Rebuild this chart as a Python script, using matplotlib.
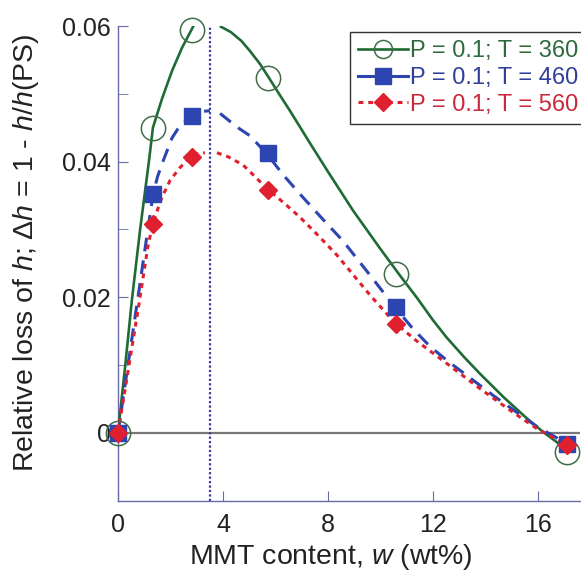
import numpy as np
import matplotlib
matplotlib.use("Agg")
import matplotlib.pyplot as plt
from matplotlib.lines import Line2D

plt.rcParams['font.family'] = ['Liberation Sans', 'DejaVu Sans']
plt.rcParams['mathtext.fontset'] = 'custom'
plt.rcParams['mathtext.rm'] = 'Liberation Sans'
plt.rcParams['mathtext.it'] = 'Liberation Sans:italic'

# measured points
w_data = [0, 1.35, 2.8, 5.7, 10.6, 17.1]
dh_360 = [0, 0.0450, 0.0594, 0.0524, 0.0234, -0.0028]
dh_460 = [0, 0.0352, 0.0467, 0.0412, 0.0185, -0.0016]
dh_560 = [0, 0.0308, 0.0407, 0.0358, 0.0160, -0.0018]

# model curves, split at the critical content
w_crit = 3.5
fit360_left_w = [0, 0.27, 0.53, 0.84, 1.18, 1.33, 1.68, 2.06, 2.44, 2.82, 2.9]
fit360_left_h = [0, 0.0097, 0.0196, 0.0299, 0.0401, 0.0450, 0.0493, 0.0534, 0.0568, 0.0596, 0.0602]
fit360_right_w = [3.92, 4.3, 4.7, 5.03, 5.41, 5.71, 6.1, 6.55, 7.3, 8.0, 8.95, 9.98, 10.74,
                  11.39, 12.0, 12.53, 13.2, 13.79, 14.7, 15.58, 16.2, 16.72, 17.1]
fit360_right_h = [0.0599, 0.0591, 0.0578, 0.0563, 0.0544, 0.0526, 0.0502, 0.0475, 0.0428, 0.0385,
                  0.0328, 0.0272, 0.0232, 0.0199, 0.0166, 0.0140, 0.0111, 0.0087, 0.0052, 0.0021,
                  0.0001, -0.0014, -0.0028]

fit460_left_w = [0, 0.4, 0.8, 1.1, 1.33, 1.5, 1.68, 2.06, 2.36, 2.82, 3.2, 3.5]
fit460_left_h = [0, 0.0105, 0.0210, 0.0290, 0.0350, 0.0377, 0.0397, 0.0435, 0.0453, 0.0468, 0.0474, 0.0475]
fit460_right_w = [3.89, 4.53, 5.03, 5.7, 6.3, 7.05, 7.8, 8.57, 9.71, 10.55, 11.2, 11.89, 12.65,
                  13.41, 14.29, 15.05, 15.96, 17.1]
fit460_right_h = [0.0471, 0.0451, 0.0438, 0.0410, 0.0380, 0.0347, 0.0315, 0.0283, 0.0227, 0.0185,
                  0.0155, 0.0127, 0.0103, 0.0081, 0.0055, 0.0034, 0.0009, -0.0016]

fit560_left_w = [0, 0.4, 0.8, 1.14, 1.33, 1.65, 1.98, 2.36, 2.74, 3.0, 3.31]
fit560_left_h = [0, 0.0095, 0.0190, 0.0275, 0.0309, 0.0345, 0.0372, 0.0391, 0.0406, 0.0411, 0.0413]
fit560_right_w = [3.77, 4.2, 4.76, 5.03, 5.68, 6.29, 6.93, 7.6, 8.34, 9.6, 10.55, 11.39, 12.53,
                  13.79, 15.05, 15.96, 17.1]
fit560_right_h = [0.0413, 0.0407, 0.0395, 0.0385, 0.0360, 0.0340, 0.0318, 0.0292, 0.0262, 0.0203,
                  0.0162, 0.0135, 0.0102, 0.0065, 0.0030, 0.0006, -0.0018]

labels = ["P = 0.1; T = 360", "P = 0.1; T = 460", "P = 0.1; T = 560"]
green = "#1f6b35"
blue = "#2d45b0"
red = "#e0202e"
text_colors = ["#2f6a3e", "#2f3f9a", "#c8283a"]

fig = plt.figure(figsize=(5.81, 5.76), dpi=100)
ax = fig.add_axes([118 / 581, 75.5 / 576, 462 / 581, 474.5 / 576])

ax.axhline(0, color="#777777", lw=1.6, zorder=1)
ax.axvline(w_crit, color="#3a3aa6", lw=1.6, ls=(0, (1, 1)), zorder=1)

ax.plot(fit360_left_w, fit360_left_h, color=green, lw=1.9, zorder=3)
ax.plot(fit360_right_w, fit360_right_h, color=green, lw=1.9, zorder=3)
ax.plot(fit460_left_w, fit460_left_h, color=blue, lw=2.2, ls=(0, (4.5, 3)), zorder=3)
ax.plot(fit460_right_w, fit460_right_h, color=blue, lw=2.2, ls=(0, (4.5, 3)), zorder=3)
ax.plot(fit560_left_w, fit560_left_h, color=red, lw=2.2, ls=(0, (1.6, 1.6)), zorder=3)
ax.plot(fit560_right_w, fit560_right_h, color=red, lw=2.2, ls=(0, (1.6, 1.6)), zorder=3)

ax.plot(w_data, dh_360, ls="none", marker="o", ms=17.5, mfc="none", mec="#3f6e48", mew=1.1,
        clip_on=False, zorder=4)
ax.plot(w_data, dh_460, ls="none", marker="s", ms=12, mfc=blue, mec=blue, clip_on=False, zorder=5)
ax.plot(w_data, dh_560, ls="none", marker="D", ms=9.5, mfc=red, mec=red, clip_on=False, zorder=6)

ax.set_xlim(0, 17.6)
ax.set_ylim(-0.01, 0.06)
ax.set_xticks([0, 4, 8, 12, 16])
ax.set_xticklabels(["0", "4", "8", "12", "16"])
ax.set_yticks([0, 0.02, 0.04, 0.06])
ax.set_yticklabels(["0", "0.02", "0.04", "0.06"])
ax.set_yticks([0.01, 0.03, 0.05], minor=True)

spine_c = "#6a6aa8"
for s in ["top", "right"]:
    ax.spines[s].set_visible(False)
for s in ["left", "bottom"]:
    ax.spines[s].set_color(spine_c)
    ax.spines[s].set_linewidth(1.0)
ax.tick_params(axis="both", which="both", direction="in", color=spine_c, labelsize=18,
               labelcolor="#222222")
ax.tick_params(axis="both", which="major", length=7)
ax.tick_params(axis="y", which="minor", length=7)
ax.tick_params(axis="x", pad=9)
ax.tick_params(axis="y", pad=5)

ax.set_xlabel("MMT content, $w$ (wt%)", fontsize=20.5, color="#222222")
ax.xaxis.set_label_coords((331 - 118) / 462, -(541 - 500) / 474.5)
ax.set_ylabel("Relative loss of $h$; $\\Delta h$ = 1 - $h$/$h$(PS)", fontsize=20.5, color="#222222")
ax.yaxis.set_label_coords(-(118 - 41) / 462, (500 - 252) / 474.5)

handles = [
    Line2D([], [], color=green, lw=1.9, marker="o", ms=13, mfc="none", mec="#3f6e48", mew=1.1),
    Line2D([], [], color=blue, lw=2.2, marker="s", ms=12, mfc=blue, mec=blue),
    Line2D([], [], color=red, lw=2.2, ls=(0, (1.6, 1.6)), marker="D", ms=9.5, mfc=red, mec=red),
]
leg = ax.legend(handles, labels, loc="upper left", bbox_to_anchor=(350 / 581, 1 - 32 / 576),
                bbox_transform=fig.transFigure, fontsize=17, frameon=True, fancybox=False,
                edgecolor="#333333", framealpha=1, labelspacing=0.2, handlelength=2.1,
                handletextpad=0.1, borderpad=0.35, borderaxespad=0)
leg.get_frame().set_linewidth(1.0)
for t, c in zip(leg.get_texts(), text_colors):
    t.set_color(c)

fig.savefig("out.png", dpi=100)
